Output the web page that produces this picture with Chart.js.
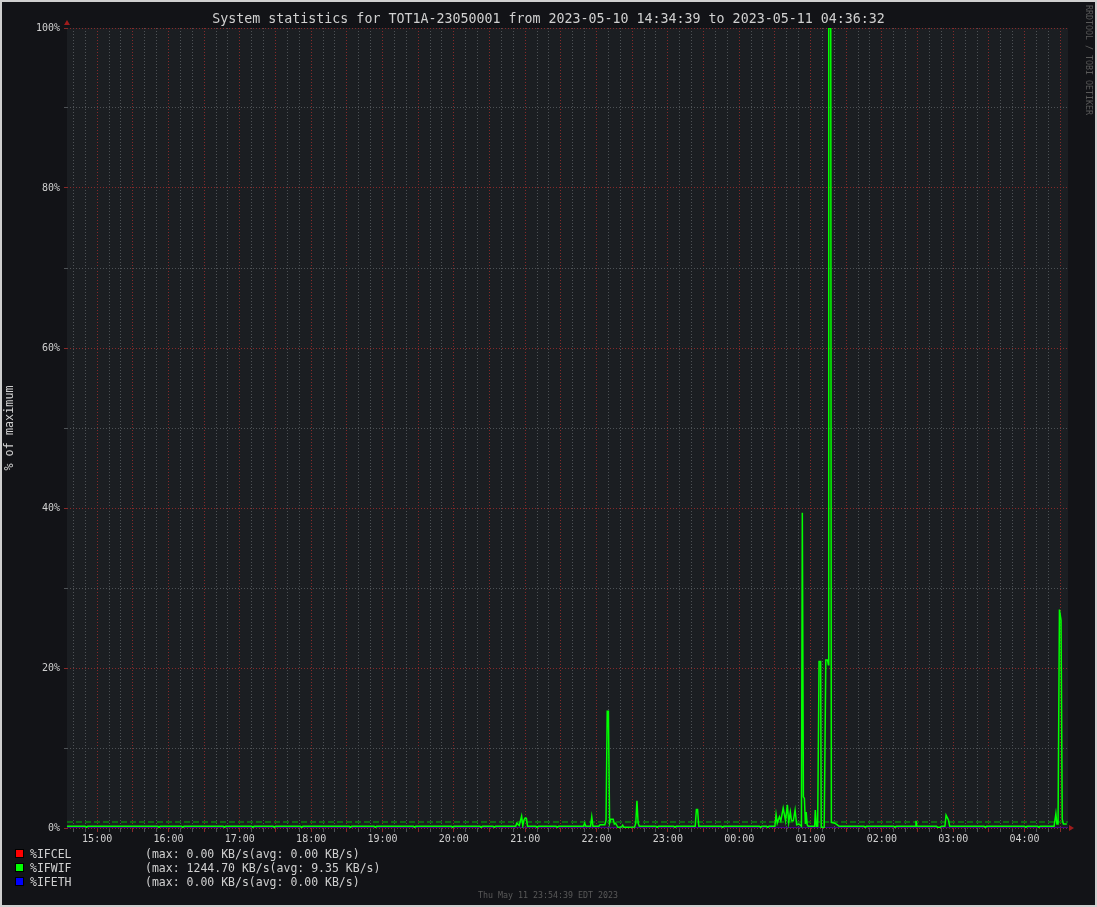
<!DOCTYPE html>
<html><head><meta charset="utf-8">
<script src="https://cdn.jsdelivr.net/npm/chart.js@4.4.0/dist/chart.umd.min.js"></script>
<style>html,body{margin:0;padding:0;background:#121317;overflow:hidden}canvas{display:block}</style>
</head><body>
<canvas id="c" width="1097" height="907"></canvas>
<script>
const titleText = 'System statistics for TOT1A-23050001 from 2023-05-10 14:34:39 to 2023-05-11 04:36:32';
const yAxisTitle = '% of maximum';
const footerText = 'Thu May 11 23:54:39 EDT 2023';
const sideText = 'RRDTOOL / TOBI OETIKER';
const startTime = '14:34:39';
const endTime = '04:36:32';

const seriesNames = ['%IFCEL', '%IFWIF', '%IFETH'];
const seriesColors = ['#ff0000', '#00ff00', '#0000ff'];
const seriesMax = ['0.00', '1244.70', '0.00'];
const seriesAvg = ['0.00', '9.35', '0.00'];

const wifiTimes = [
 '14:34:39','14:50:00','14:51:00','14:52:00','15:51:00','15:52:00','15:53:00',
 '16:11:00','16:12:00','16:13:00','16:46:00','16:47:00','16:48:00',
 '17:10:00','17:11:00','17:12:00','17:28:00','17:29:00','17:30:00',
 '17:51:00','17:52:00','17:53:00','18:32:00','18:33:00','18:34:00',
 '18:53:00','18:54:00','18:55:00','19:26:00','19:27:00','19:28:00',
 '19:58:00','19:59:00','20:00:00','20:22:00','20:23:00','20:24:00',
 '20:33:00','20:34:00','20:35:00',
 '20:52:00','20:53:00','20:55:00','20:57:00','20:58:00','20:59:00','21:00:00','21:01:00','21:02:00',
 '21:09:00','21:10:00','21:11:00','21:26:00','21:27:00','21:28:00',
 '21:49:00','21:50:00','21:51:00','21:55:00','21:56:00','21:57:00',
 '22:02:00','22:03:00','22:07:00','22:08:00','22:09:00','22:10:00','22:11:00','22:12:00','22:14:00',
 '22:15:00','22:16:00','22:18:00','22:21:00','22:22:00','22:23:00',
 '22:32:00','22:33:00','22:34:00','22:35:00','22:36:00',
 '22:50:00','22:51:00','22:52:00','23:05:00','23:06:00','23:07:00',
 '23:23:00','23:24:00','23:25:00','23:26:00',
 '23:45:00','23:46:00','23:47:00','00:17:00','00:18:00','00:19:00','00:23:00','00:24:00','00:25:00',
 '00:30:00','00:31:00','00:32:00','00:33:50','00:35:00','00:37:00','00:39:00','00:40:30','00:41:40',
 '00:43:00','00:44:00','00:45:30','00:47:00','00:48:20','00:50:20','00:52:20','00:53:05','00:54:00',
 '00:54:50','00:55:40','00:56:20','00:57:10','00:58:00',
 '01:03:30','01:04:00','01:05:00','01:06:00','01:07:10','01:08:30','01:09:00','01:10:10','01:11:30',
 '01:12:50','01:14:20','01:15:00','01:15:20','01:17:00','01:17:30','01:20:30','01:22:30','01:24:00',
 '01:45:00','01:46:00','01:47:00','02:10:00','02:11:00','02:12:00',
 '02:28:00','02:28:40','02:29:30','02:46:00','02:47:00','02:49:00','02:50:00',
 '02:53:00','02:54:00','02:55:00','02:56:00','02:57:00',
 '03:26:00','03:27:00','03:28:00','04:00:00','04:01:00','04:02:00','04:11:00','04:12:00','04:13:00',
 '04:24:50','04:26:20','04:27:10','04:28:10','04:29:20','04:30:40','04:31:40','04:32:40','04:34:20','04:35:30'
];
const wifiValues = [
 0.22,0.22,0.08,0.22,0.22,0.08,0.22,
 0.22,0.08,0.22,0.22,0.08,0.22,
 0.22,0.08,0.22,0.22,0.08,0.22,
 0.22,0.08,0.22,0.22,0.08,0.22,
 0.22,0.08,0.22,0.22,0.08,0.22,
 0.22,0.08,0.22,0.22,0.08,0.22,
 0.22,0.08,0.22,
 0.22,0.6,0.3,1.5,0.3,1.0,1.25,1.2,0.22,
 0.22,0.08,0.22,0.22,0.08,0.22,
 0.22,0.6,0.22,0.22,1.4,0.22,
 0.22,0.4,0.4,1.0,14.6,14.6,0.6,1.1,1.1,
 0.5,0.6,0.08,0.12,0.35,0.08,
 0.12,0.6,3.4,0.6,0.22,
 0.22,0.08,0.22,0.22,0.08,0.22,
 0.22,2.3,2.3,0.22,
 0.22,0.08,0.22,0.22,0.08,0.22,0.22,0.08,0.22,
 0.22,1.7,0.6,1.4,0.9,2.5,0.9,2.9,0.7,
 2.0,0.9,0.9,2.25,0.4,0.5,0.22,39.4,3.9,
 3.7,0.5,2.0,0.4,0.22,
 0.22,2.25,0.22,0.22,20.8,20.8,0.1,0,0.1,
 21.0,21.0,20.4,100,100,0.7,0.6,0.4,0.22,
 0.22,0.08,0.22,0.22,0.08,0.22,
 0.22,0.9,0.22,0.22,0.08,0.08,0.22,
 0.22,1.6,1.3,1.0,0.22,
 0.22,0.08,0.22,0.22,0.08,0.22,0.22,0.08,0.22,
 0.22,1.8,0.5,0.5,27.3,26.0,1.1,0.5,0.5,0.5
];
const celTimes = [startTime, endTime];
const celValues = [0, 0];
const ethTimes = [startTime, endTime];
const ethValues = [0, 0];

const MONO = '"DejaVu Sans Mono", monospace';
const TEXT = '#d0d0d0';
const GRID_MINOR = '#4e5256';
const GRID_MAJOR = '#862a2a';

function toMin(s) {
  const p = s.split(':').map(Number);
  let v = p[0] * 60 + p[1] + (p[2] || 0) / 60;
  if (p[0] < 12) v += 1440;
  return v;
}
function fmtMin(v) {
  const h = Math.floor(v / 60) % 24, m = Math.round(v % 60);
  return String(h).padStart(2, '0') + ':' + String(m).padStart(2, '0');
}
function pts(times, vals) { return times.map((t, i) => ({ x: toMin(t), y: vals[i] })); }

const xMin = toMin(startTime), xMax = toMin(endTime);
const avgPct = parseFloat(seriesAvg[1]) / parseFloat(seriesMax[1]) * 100;

const decor = {
  id: 'decor',
  beforeDraw(chart) {
    const ctx = chart.ctx, a = chart.chartArea;
    ctx.save();
    ctx.fillStyle = '#121317';
    ctx.fillRect(0, 0, chart.width, chart.height);
    ctx.fillStyle = '#1b1e22';
    ctx.fillRect(a.left, a.top, a.right - a.left, a.bottom - a.top);
    ctx.restore();
  },
  afterDraw(chart) {
    const ctx = chart.ctx, a = chart.chartArea;
    ctx.save();
    // axis arrows
    ctx.fillStyle = '#a01c1c';
    ctx.beginPath();
    ctx.moveTo(a.left - 3, a.top - 3); ctx.lineTo(a.left + 3, a.top - 3); ctx.lineTo(a.left, a.top - 8);
    ctx.closePath(); ctx.fill();
    ctx.beginPath();
    ctx.moveTo(a.right + 1, a.bottom - 3); ctx.lineTo(a.right + 1, a.bottom + 3); ctx.lineTo(a.right + 6, a.bottom);
    ctx.closePath(); ctx.fill();
    // legend
    ctx.font = '11.5px ' + MONO;
    ctx.textBaseline = 'middle';
    ctx.textAlign = 'left';
    for (let i = 0; i < seriesNames.length; i++) {
      const y = 855 + 14 * i;
      ctx.fillStyle = seriesColors[i];
      ctx.fillRect(16, y - 5, 7, 7);
      ctx.strokeStyle = '#000';
      ctx.lineWidth = 1;
      ctx.strokeRect(15.5, y - 5.5, 8, 8);
      ctx.fillStyle = TEXT;
      ctx.fillText(seriesNames[i], 30, y);
      ctx.fillText('(max: ' + seriesMax[i] + ' KB/s(avg: ' + seriesAvg[i] + ' KB/s)', 145, y);
    }
    // footer
    ctx.font = '8.3px ' + MONO;
    ctx.fillStyle = '#595959';
    ctx.textAlign = 'center';
    ctx.fillText(footerText, 548, 896);
    // side text
    ctx.translate(1088, 5);
    ctx.rotate(Math.PI / 2);
    ctx.textAlign = 'left';
    ctx.fillText(sideText, 0, 0);
    ctx.restore();
    // frame
    ctx.save();
    ctx.strokeStyle = '#cfcfcf';
    ctx.lineWidth = 2;
    ctx.strokeRect(1, 1, chart.width - 2, chart.height - 2);
    ctx.restore();
  }
};

const gridColorX = c => (c.tick && Math.round(c.tick.value) % 30 === 0) ? GRID_MAJOR : GRID_MINOR;
const gridColorY = c => (c.tick && Math.round(c.tick.value) % 20 === 0) ? GRID_MAJOR : GRID_MINOR;

new Chart(document.getElementById('c'), {
  type: 'line',
  data: {
    datasets: [
      { label: seriesNames[1], data: pts(wifiTimes, wifiValues), borderColor: seriesColors[1], borderWidth: 1.5, pointRadius: 0, tension: 0, fill: false },
      { label: 'avg', data: [{ x: xMin, y: avgPct }, { x: xMax, y: avgPct }], borderColor: '#00b400', borderWidth: 1.2, borderDash: [6, 3], pointRadius: 0, fill: false },
      { label: seriesNames[2], data: pts(ethTimes, ethValues), borderColor: seriesColors[2], borderWidth: 1, pointRadius: 0, fill: false },
      { label: seriesNames[0], data: pts(celTimes, celValues), borderColor: seriesColors[0], borderWidth: 1, pointRadius: 0, fill: false }
    ]
  },
  options: {
    responsive: false,
    animation: false,
    devicePixelRatio: 1,
    layout: { padding: 0 },
    plugins: {
      legend: { display: false },
      tooltip: { enabled: false },
      title: {
        display: true, text: titleText, color: TEXT,
        font: { family: MONO, size: 13.3, weight: 'normal', lineHeight: 1.1 },
        padding: { top: 12.5, bottom: 0.87 }
      }
    },
    scales: {
      x: {
        type: 'linear', min: xMin, max: xMax,
        afterBuildTicks(s) {
          const t = [];
          for (let v = Math.ceil(xMin / 10) * 10; v <= xMax; v += 10) t.push({ value: v });
          s.ticks = t;
        },
        afterFit(s) { s.height = 79; },
        ticks: {
          autoSkip: false, maxRotation: 0, minRotation: 0, padding: 1, color: TEXT,
          font: { family: MONO, size: 10 },
          callback: v => (Math.round(v) % 60 === 0 ? fmtMin(v) : '')
        },
        grid: { color: gridColorX, tickColor: gridColorX, lineWidth: 1, drawTicks: true, tickLength: 4 },
        border: { display: false, dash: [1, 2] }
      },
      y: {
        type: 'linear', min: 0, max: 100,
        afterBuildTicks(s) {
          const t = [];
          for (let v = 0; v <= 100; v += 10) t.push({ value: v });
          s.ticks = t;
        },
        afterFit(s) { s.width = 67; },
        ticks: {
          autoSkip: false, padding: 4, color: TEXT,
          font: { family: MONO, size: 10 },
          callback: v => (Math.round(v) % 20 === 0 ? v + '%' : '')
        },
        title: { display: true, text: yAxisTitle, color: TEXT, font: { family: MONO, size: 11.8 }, padding: { top: 3, bottom: 0 } },
        grid: { color: gridColorY, tickColor: gridColorY, lineWidth: 1, drawTicks: true, tickLength: 3 },
        border: { display: false, dash: [1, 2] }
      },
      yRight: {
        type: 'linear', position: 'right', display: true,
        afterFit(s) { s.width = 29; },
        ticks: { display: false },
        grid: { display: false },
        border: { display: false }
      }
    }
  },
  plugins: [decor]
});
</script>
</body></html>
